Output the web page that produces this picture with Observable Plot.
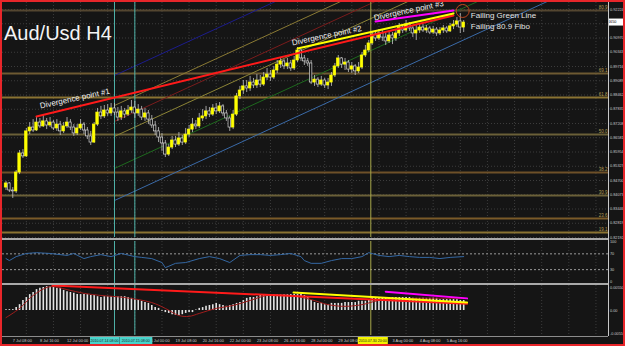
<!DOCTYPE html>
<html><head><meta charset="utf-8">
<script src="https://cdn.jsdelivr.net/npm/d3@7"></script>
<script src="https://cdn.jsdelivr.net/npm/@observablehq/plot@0.6"></script>
<style>
html,body{margin:0;padding:0;background:#151515;}
#wrap{position:relative;width:625px;height:346px;background:#151515;overflow:hidden;font-family:"Liberation Sans",Arial,sans-serif;}
#wrap svg{position:absolute;left:0;display:block;}
.hl{position:absolute;background:#a9a9a9;}
#border{position:absolute;left:0;top:0;width:625px;height:346px;box-sizing:border-box;border:2px solid #e8262a;pointer-events:none;z-index:5;}
#title{position:absolute;left:4px;top:21px;color:#f4f4f4;font-size:20px;line-height:24px;white-space:nowrap;z-index:4;}
</style></head><body>
<div id="wrap"><div id="title">Aud/Usd H4</div><div id="border"></div></div>
<script>
// ---------- DATA ----------
// H4 candles, index 0 = 7 Jul 00:00
const firstOpen = 0.8439;
const closes = [
0.8457,0.8426,0.8422,0.8505,0.8589,0.8576,0.8686,0.8703,0.8690,0.8725,
0.8708,0.8730,0.8712,0.8725,0.8699,0.8716,0.8686,0.8708,0.8725,0.8703,
0.8677,0.8699,0.8716,0.8690,0.8664,0.8637,0.8716,0.8769,0.8752,0.8778,
0.8765,0.8787,0.8769,0.8747,0.8774,0.8760,0.8778,0.8791,0.8765,0.8782,
0.8747,0.8765,0.8738,0.8712,0.8686,0.8659,0.8633,0.8584,0.8615,0.8646,
0.8628,0.8655,0.8637,0.8672,0.8694,0.8716,0.8708,0.8743,0.8752,0.8774,
0.8760,0.8787,0.8774,0.8796,0.8765,0.8743,0.8703,0.8760,0.8840,0.8866,
0.8884,0.8875,0.8901,0.8888,0.8910,0.8892,0.8923,0.8936,0.8923,0.8954,
0.8980,0.8994,0.8972,0.8985,0.8963,0.8998,0.9042,0.9007,0.8994,0.8985,
0.8901,0.8914,0.8892,0.8910,0.8888,0.8901,0.8932,0.8972,0.9007,0.8980,
0.8989,0.8958,0.8972,0.8950,0.8967,0.9020,0.9042,0.9073,0.9112,0.9095,
0.9117,0.9099,0.9082,0.9108,0.9095,0.9117,0.9143,0.9130,0.9156,0.9139,
0.9117,0.9130,0.9143,0.9130,0.9139,0.9121,0.9134,0.9117,0.9130,0.9139,
0.9126,0.9148,0.9156,0.9170,0.9143,0.9165];
const highs = [
0.8466,0.8461,0.8439,0.8514,0.8602,0.8606,0.8699,0.8725,0.8738,0.8747,
0.8743,0.8756,0.8743,0.8747,0.8734,0.8738,0.8730,0.8725,0.8747,0.8738,
0.8716,0.8716,0.8738,0.8725,0.8703,0.8686,0.8725,0.8787,0.8796,0.8800,
0.8804,0.8809,0.8809,0.8791,0.8796,0.8787,0.8800,0.8822,0.8818,0.8804,
0.8796,0.8787,0.8778,0.8756,0.8730,0.8703,0.8677,0.8646,0.8628,0.8664,
0.8664,0.8681,0.8668,0.8699,0.8712,0.8743,0.8734,0.8765,0.8782,0.8796,
0.8791,0.8804,0.8809,0.8813,0.8804,0.8778,0.8752,0.8778,0.8853,0.8884,
0.8910,0.8910,0.8928,0.8919,0.8936,0.8932,0.8945,0.8963,0.8954,0.8972,
0.8998,0.9011,0.9002,0.9007,0.8998,0.9016,0.9055,0.9046,0.9020,0.9007,
0.8998,0.8932,0.8923,0.8928,0.8919,0.8919,0.8945,0.8985,0.9020,0.9011,
0.9007,0.8998,0.8989,0.8980,0.8989,0.9033,0.9064,0.9086,0.9126,0.9130,
0.9134,0.9130,0.9117,0.9126,0.9121,0.9134,0.9161,0.9156,0.9174,0.9165,
0.9152,0.9156,0.9161,0.9156,0.9152,0.9148,0.9148,0.9143,0.9143,0.9152,
0.9148,0.9161,0.9174,0.9187,0.9205,0.9174];
const lows = [
0.8426,0.8417,0.8391,0.8413,0.8496,0.8567,0.8571,0.8672,0.8681,0.8686,
0.8699,0.8703,0.8694,0.8703,0.8690,0.8686,0.8668,0.8677,0.8699,0.8690,
0.8664,0.8668,0.8690,0.8672,0.8650,0.8624,0.8633,0.8708,0.8738,0.8743,
0.8752,0.8752,0.8756,0.8730,0.8734,0.8743,0.8752,0.8765,0.8743,0.8752,
0.8734,0.8730,0.8716,0.8699,0.8668,0.8637,0.8598,0.8571,0.8576,0.8606,
0.8615,0.8620,0.8624,0.8628,0.8659,0.8681,0.8694,0.8699,0.8730,0.8738,
0.8747,0.8752,0.8760,0.8765,0.8752,0.8730,0.8686,0.8694,0.8752,0.8826,
0.8848,0.8857,0.8862,0.8875,0.8875,0.8879,0.8884,0.8910,0.8906,0.8914,
0.8941,0.8963,0.8958,0.8958,0.8950,0.8954,0.8989,0.8994,0.8976,0.8972,
0.8892,0.8884,0.8879,0.8884,0.8875,0.8870,0.8884,0.8923,0.8963,0.8963,
0.8954,0.8945,0.8941,0.8932,0.8941,0.8958,0.9011,0.9033,0.9064,0.9082,
0.9086,0.9082,0.9064,0.9073,0.9068,0.9082,0.9104,0.9117,0.9121,0.9126,
0.9099,0.9086,0.9117,0.9121,0.9117,0.9112,0.9112,0.9104,0.9108,0.9117,
0.9117,0.9121,0.9134,0.9143,0.9117,0.9121];

// MACD histogram (one per candle)
const macdVals = [
0.0002,0.0002,0.0002,0.0007,0.0014,0.0024,0.0031,0.0038,0.0043,0.0050,
0.0053,0.0055,0.0057,0.0057,0.0055,0.0053,0.0053,0.0048,0.0045,0.0043,
0.0041,0.0038,0.0038,0.0038,0.0038,0.0036,0.0036,0.0033,0.0031,0.0033,
0.0033,0.0033,0.0033,0.0033,0.0033,0.0033,0.0031,0.0029,0.0026,0.0024,
0.0022,0.0019,0.0017,0.0012,0.0007,0.0005,-0.0002,-0.0005,-0.0007,-0.0010,
-0.0012,-0.0012,-0.0010,-0.0007,-0.0005,-0.0005,0.0001,0.0005,0.0007,0.0010,
0.0012,0.0014,0.0017,0.0014,0.0012,0.0010,0.0012,0.0014,0.0017,0.0019,
0.0024,0.0029,0.0031,0.0031,0.0033,0.0036,0.0036,0.0038,0.0038,0.0038,
0.0038,0.0038,0.0038,0.0038,0.0038,0.0038,0.0038,0.0038,0.0036,0.0031,
0.0024,0.0019,0.0017,0.0017,0.0014,0.0014,0.0017,0.0017,0.0017,0.0017,
0.0019,0.0019,0.0019,0.0019,0.0022,0.0022,0.0022,0.0024,0.0029,0.0029,
0.0029,0.0029,0.0031,0.0031,0.0031,0.0031,0.0031,0.0031,0.0031,0.0031,
0.0029,0.0029,0.0029,0.0029,0.0029,0.0029,0.0029,0.0029,0.0026,0.0026,
0.0026,0.0026,0.0026,0.0026,0.0024,0.0024];
// MACD signal line (sampled points)
const signalIdx = [0,4,8,13,18,23,28,35,43,47,51,54,57,62,67,72,77,84,90,95,100,105,110,120,135];
const signalVals = [-0.0017,0.0005,0.0036,0.0057,0.0050,0.0041,0.0036,0.0031,0.0019,0.0005,-0.0012,-0.0014,-0.0007,0.0005,0.0012,0.0024,0.0036,0.0036,0.0026,0.0014,0.0010,0.0014,0.0024,0.0029,0.0029];

// RSI (sampled points)
const rsiIdx = [0,1,3,6,9,13,18,20,23,25,28,31,34,38,40,43,46,47,50,53,57,60,63,66,69,72,75,78,81,84,87,88,90,93,96,99,102,105,107,110,113,116,119,122,125,128,131,135];
const rsiVals = [58,53,63,71,73,71,66,71,58,63,68,63,71,63,61,58,48,35,46,48,58,63,58,48,66,68,68,66,68,71,63,53,46,46,53,58,58,63,73,66,63,66,63,61,61,58,61,63];
const rsiLevels = [70, 30];
const rsiTicks = [100, 70, 30, 0];

// price axis ticks
const priceTicks = [0.92224,0.91597,0.90970,0.90343,0.89716,0.89089,0.88462,0.87835,0.87208,0.86581,0.85954,0.85327,0.84700,0.84073,0.83446,0.82819,0.82192];
// Fibonacci levels
const fibPrices = [0.9218,0.8941,0.8835,0.8672,0.8505,0.8404,0.8303,0.8241];
const fibNames = ["80.9","69.1","61.8","50.0","38.2","30.9","23.6","19.1"];
// channel (parallel lines) start at candle 32, slope per candle
const channelStartIdx = 32;
const channelStarts = [0.8932,0.8800,0.8730,0.8664,0.8523,0.8382];
const channelSlope = 0.000686;
// divergence lines on price [idx, price]
const priceDivRed = [[9,0.8752],[132,0.9196]];
const priceDivYellow = [[86,0.9051],[132,0.9205]];
const priceDivMagenta = [[109,0.9170],[132,0.9218]];
// divergence lines on MACD [idx, value]
const macdDivRed = [[13.7,0.0060],[136,0.0016]];
const macdDivYellow = [[84.8,0.0043],[136,0.0019]];
const macdDivMagenta = [[112,0.0045],[136,0.0029]];
// annotations
const divLabelText = ["Divergence point #1","Divergence point #2","Divergence point #3"];
const divLabelIdx = [10.2, 84.5, 108.7];
const divLabelPrice = [0.8787, 0.9064, 0.9174];
const noteText = ["Failing Green Line","Failing 80.9 Fibo"];
const noteIdx = [137.1, 137.1];
const notePrice = [0.9198, 0.9148];
const circleIdx = 134.7, circlePrice = 0.9216;
// vertical lines (candle index)
const vLineIdx = [32, 38, 107.6];
const vLineLabels = ["2010.07.14 08:00","2010.07.15 08:00","2010.07.30 20:00"];
// time axis (labels visible in the picture)
const timeIdx = [2,10,18,42,50,58,66,74,82,90,98,114,122,130];
const timeLabels = ["7 Jul 08:00","8 Jul 16:00","12 Jul 00:00","16 Jul 00:00","19 Jul 08:00","20 Jul 16:00","22 Jul 00:00","23 Jul 08:00","26 Jul 16:00","28 Jul 00:00","29 Jul 08:00","3 Aug 00:00","4 Aug 08:00","5 Aug 16:00"];
const gridIdx = [6,14,22,30,38,46,54,62,70,78,86,94,102,110,118,126,134,142,150,158,166,174];
const macdTicks = [0.0055, 0, -0.0055];
const macdTickText = ["0.00550","0.00","-0.00550"];

// ---------- STYLE ----------
const W = 625;
const FONT = "Liberation Sans, Arial, sans-serif";
const xScale = {domain: [0, 135], range: [5.5, 463.2], axis: null};
const gridStyle = {stroke: "#3c3c3c", strokeDasharray: "1,2"};
const fibColors = ["#544630","#6e5a32","#8a7332","#6b6038","#6e5028","#6b6038","#7a5a28","#8a7332"];
const channelColors = ["#1c1c8c","#8a7a34","#7a1c1c","#8c8436","#1e6a1e","#3a6aa8"];
const vColors = ["#4fb3a9","#4fb3a9","#a8a84a"];
const hlColors = ["#48d4cc","#48d4cc","#f4f400"];
// highlight boxes: [left offset, width] relative to the line x
const hlBox = [[-24, 29], [-15, 33], [-12.5, 30]];
const AXF = 3.8; // right axis font size
const seg = a => a.map(([i, v]) => ({i, v}));
const inFrame = d => d * 3.39 + 5.5 < 607;

const bars = closes.map((c, i) => ({i, o: i ? closes[i - 1] : firstOpen, c, h: highs[i], l: lows[i]}));

const main = Plot.plot({
  width: W, height: 238, marginLeft: 2, marginRight: 17, marginTop: 2, marginBottom: 1,
  style: {background: "transparent", overflow: "visible"},
  x: xScale,
  y: {domain: [0.82192, 0.92532], range: [237, 2], axis: null},
  marks: [
    Plot.ruleY(priceTicks, gridStyle),
    Plot.ruleX(gridIdx.filter(inFrame), gridStyle),
    Plot.ruleY(fibPrices, {stroke: (d, i) => fibColors[i], strokeWidth: 2}),
    Plot.text(fibPrices, {y: d => d, text: (d, i) => fibNames[i], frameAnchor: "right", textAnchor: "end", dx: -1, dy: -3, fontSize: 4.5, fill: "#b39b52", fontFamily: FONT}),
    ...channelStarts.map((s, k) => Plot.line([{i: channelStartIdx, p: s}, {i: channelStartIdx + 200, p: s + channelSlope * 200}],
      {x: "i", y: "p", stroke: channelColors[k], strokeWidth: 1, clip: true})),
    Plot.ruleX(vLineIdx, {stroke: (d, i) => vColors[i], strokeWidth: 1}),
    Plot.ruleX(bars, {x: "i", y1: "l", y2: "h", stroke: "#c4c4c4", strokeWidth: 0.8}),
    Plot.rect(bars, {x1: d => d.i - 0.36, x2: d => d.i + 0.36, y1: "o", y2: "c",
      fill: d => d.c >= d.o ? "#ffff00" : "#111111", stroke: d => d.c >= d.o ? "#ffff00" : "#d6d6d6", strokeWidth: 0.7}),
    Plot.line(seg(priceDivRed), {x: "i", y: "v", stroke: "#ff1a1a", strokeWidth: 2}),
    Plot.line(seg(priceDivYellow), {x: "i", y: "v", stroke: "#ffff00", strokeWidth: 2}),
    Plot.line(seg(priceDivMagenta), {x: "i", y: "v", stroke: "#ff00ff", strokeWidth: 2}),
    Plot.text(divLabelText, {x: (d, i) => divLabelIdx[i], y: (d, i) => divLabelPrice[i], text: d => d,
      rotate: -12, textAnchor: "start", lineAnchor: "bottom", fontSize: 8, fill: "#f0f0f0", fontFamily: FONT}),
    Plot.dot([0], {x: () => circleIdx, y: () => circlePrice, r: 6.5, stroke: "#c0461e", fill: "none", strokeWidth: 1}),
    Plot.text(noteText, {x: (d, i) => noteIdx[i], y: (d, i) => notePrice[i], text: d => d,
      textAnchor: "start", fontSize: 8, fill: "#e4e4e4", fontFamily: FONT}),
    Plot.text(priceTicks, {y: d => d, text: d => d.toFixed(5), frameAnchor: "right", textAnchor: "start", dx: 1.5, fontSize: AXF, fill: "#c8c8c8", fontFamily: FONT})
  ]
});

const rsi = Plot.plot({
  width: W, height: 42, marginLeft: 2, marginRight: 17, marginTop: 0, marginBottom: 0,
  style: {background: "transparent", overflow: "visible"},
  x: xScale,
  y: {domain: [0, 100], range: [40, 0.5], axis: null},
  marks: [
    Plot.ruleX(gridIdx.filter(inFrame), gridStyle),
    Plot.ruleY(rsiLevels, {stroke: "#9a9a9a", strokeDasharray: "2,2"}),
    Plot.ruleX(vLineIdx, {stroke: (d, i) => vColors[i], strokeWidth: 1}),
    Plot.line(rsiIdx.map((d, k) => ({i: d, v: rsiVals[k]})), {x: "i", y: "v", stroke: "#3468a4", strokeWidth: 1}),
    Plot.text(rsiTicks, {y: d => d, text: d => String(d), frameAnchor: "right", textAnchor: "start", dx: 1.5, fontSize: AXF, fill: "#c8c8c8", fontFamily: FONT})
  ]
});

const macd = Plot.plot({
  width: W, height: 61, marginLeft: 2, marginRight: 17, marginTop: 0, marginBottom: 11,
  style: {background: "transparent", overflow: "visible"},
  x: xScale,
  y: {domain: [-0.0055, 0.0055], range: [48, 2], axis: null},
  marks: [
    Plot.ruleX(gridIdx.filter(inFrame), gridStyle),
    Plot.ruleX(vLineIdx, {stroke: (d, i) => vColors[i], strokeWidth: 1}),
    Plot.ruleX(macdVals.map((v, i) => ({i, v})), {x: "i", y1: 0, y2: "v", stroke: "#e4e4e4", strokeWidth: 1.6}),
    Plot.line(signalIdx.map((d, k) => ({i: d, v: signalVals[k]})), {x: "i", y: "v", stroke: "#a01c1c", strokeWidth: 1, curve: "catmull-rom"}),
    Plot.line(seg(macdDivRed), {x: "i", y: "v", stroke: "#ff1a1a", strokeWidth: 2}),
    Plot.line(seg(macdDivYellow), {x: "i", y: "v", stroke: "#ffff00", strokeWidth: 2}),
    Plot.line(seg(macdDivMagenta), {x: "i", y: "v", stroke: "#ff00ff", strokeWidth: 2}),
    Plot.text(macdTicks, {y: d => d, text: (d, i) => macdTickText[i], frameAnchor: "right", textAnchor: "start", dx: 1.5, fontSize: AXF, fill: "#c8c8c8", fontFamily: FONT}),
    Plot.text(timeLabels, {x: (d, i) => timeIdx[i], text: d => d, frameAnchor: "bottom", textAnchor: "start", dy: 6, fontSize: 3.9, fill: "#cccccc", fontFamily: FONT})
  ]
});

// highlighted time labels of the vertical lines
{
  const sx = macd.scale("x");
  const g = d3.select(macd).append("g").attr("font-family", FONT);
  vLineIdx.forEach((d, k) => {
    const cx = sx.apply(d);
    const [off, w] = hlBox[k];
    g.append("rect").attr("x", cx + off).attr("y", 52).attr("width", w).attr("height", 8).attr("fill", hlColors[k]);
    g.append("text").attr("x", cx + off + w / 2).attr("y", 56).attr("text-anchor", "middle").attr("dy", "0.35em")
      .attr("font-size", 3.6).attr("fill", "#202020").text(vLineLabels[k]);
  });
}
// current price box
{
  const sy = main.scale("y");
  const yp = sy.apply(closes[closes.length - 1]);
  const g = d3.select(main).append("g").attr("font-family", FONT);
  g.append("rect").attr("x", 609).attr("y", yp - 3.5).attr("width", 14).attr("height", 7).attr("fill", "#ffffff");
  g.append("text").attr("x", 609.5).attr("y", yp).attr("dy", "0.35em").attr("font-size", AXF).attr("fill", "#000").text(closes[closes.length - 1].toFixed(5));
}

const wrap = document.getElementById("wrap");
const place = (el, top) => { el.style.top = top + "px"; wrap.insertBefore(el, wrap.firstChild); };
place(macd, 285); place(rsi, 241); place(main, 0);
const line = (l, t, w, h, c) => { const d = document.createElement("div"); d.className = "hl";
  Object.assign(d.style, {left: l + "px", top: t + "px", width: w + "px", height: h + "px", background: c}); wrap.appendChild(d); };
line(2, 238, 606, 2, "#a9a9a9");
line(2, 283, 606, 2, "#a9a9a9");
line(2, 336, 606, 1, "#8c8c8c");
line(608, 2, 1, 334, "#c8c8c8");
</script>
</body></html>
